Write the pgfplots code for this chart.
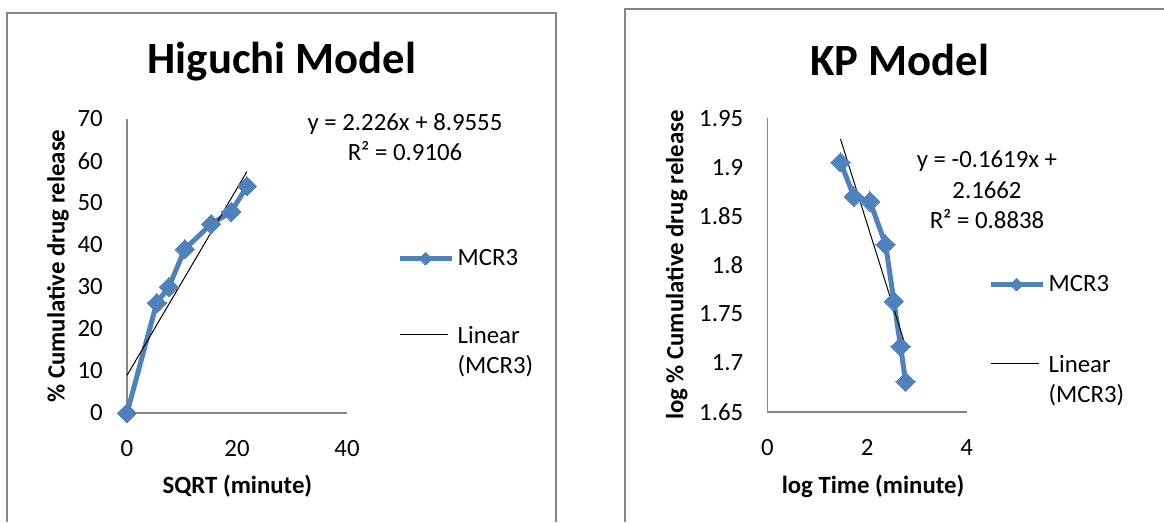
\documentclass[border=0pt]{standalone}
\usepackage{fontspec}
\setmainfont{Carlito}
\usepackage{pgfplots}
\pgfplotsset{compat=1.18}
\definecolor{xlblue}{RGB}{79,129,189}
\definecolor{framegray}{RGB}{134,134,134}
\definecolor{axgray}{RGB}{134,134,134}
\newcommand{\tickfont}{\fontsize{18.6}{22.3}\selectfont}
\newcommand{\titlefont}{\fontsize{33.5}{40}\selectfont\bfseries}

\pgfplotstableread{
x y
0 0
5.4 26.2
7.6 30.0
10.5 39.0
15.3 45.0
18.95 47.9
21.8 54.0
}\higuchi
\pgfplotstableread{
x y
1.467 1.905
1.736 1.870
2.058 1.865
2.372 1.821
2.539 1.763
2.673 1.717
2.774 1.681
}\kp

\pgfplotsset{
  excelstyle/.style={
    scale only axis,
    clip=false,
    axis lines=left,
    axis line style={draw=axgray, line width=1pt, -},
    major tick length=0pt,
    tick style={draw=none},
    scaled ticks=false,
    /pgf/number format/assume math mode=true,
    tick label style={font=\tickfont, inner sep=0pt},
    xticklabel style={anchor=north, yshift=-20.25pt},
    yticklabel style={anchor=east, xshift=-18pt},
    legend cell align=left,
  },
  series/.style={
    color=xlblue, line width=3.75pt, line join=round,
    mark=square*, mark size=5.1pt,
    mark options={rotate=45, fill=xlblue, draw=xlblue, line width=0pt},
    legend image code/.code={\draw[##1, mark repeat=2, mark phase=2, mark size=3.4pt] plot coordinates {(0pt,0pt) (19.5pt,0pt) (39pt,0pt)};},
  },
  trend/.style={
    black, line width=0.75pt, mark=none,
    legend image code/.code={\draw[##1] (0pt,12.5pt) -- (36pt,12.5pt);},
  },
}

\begin{document}
\begin{tikzpicture}
\path[use as bounding box] (0,0) rectangle (873pt,391.5pt);
\draw[framegray, line width=1.5pt] (5.25pt,0) -- (5.25pt,381.75pt) -- (417pt,381.75pt) -- (417pt,0);
\draw[framegray, line width=1.5pt] (468.75pt,0) -- (468.75pt,384.75pt) -- (873pt,384.75pt);

\begin{axis}[excelstyle,
  at={(95.25pt,81.75pt)}, anchor=south west,
  width=165pt, height=220.5pt,
  xmin=0, xmax=40, ymin=0, ymax=70,
  xtick={0,20,40}, ytick={0,10,...,70},
  title={Higuchi Model},
  every axis title/.style={at={(axis description cs:0.7045,1.194)}, anchor=center, font=\titlefont},
  xlabel={SQRT (minute)},
  ylabel={\% Cumulative drug release},
  every axis x label/.style={at={(axis description cs:0.502,-0.2483)}, anchor=center, font=\tickfont\bfseries},
  every axis y label/.style={at={(axis description cs:-0.3136,0.5)}, rotate=90, anchor=center, font=\tickfont\bfseries},
  legend style={at={(axis description cs:1.227,0.5575)}, anchor=north west,
    draw=none, fill=none, inner sep=0pt, row sep=44.35pt, column sep=2.6pt,
    font=\tickfont, nodes={inner sep=0pt}, cells={anchor=west, align=left}},
]
\addplot[series] table[x=x,y=y] {\higuchi};
\addlegendentry{MCR3}
\addplot[trend] coordinates {(0,8.9555) (21.8,57.48)};
\addlegendentry{Linear\\(MCR3)}
\node[font=\tickfont, align=center] at (axis description cs:1.2636,0.9388) {y = 2.226x + 8.9555\\R² = 0.9106};
\end{axis}

\begin{axis}[excelstyle,
  at={(575.6pt,82.5pt)}, anchor=south west,
  width=149.4pt, height=220.3pt,
  xmin=0, xmax=4, ymin=1.65, ymax=1.95,
  xtick={0,2,4}, ytick={1.65,1.7,1.75,1.8,1.85,1.9,1.95},
  title={KP Model},
  every axis title/.style={at={(axis description cs:0.665,1.1985)}, anchor=center, font=\titlefont},
  xlabel={log Time (minute)},
  ylabel={log \% Cumulative drug release},
  every axis x label/.style={at={(axis description cs:0.530,-0.252)}, anchor=center, font=\tickfont\bfseries},
  every axis y label/.style={at={(axis description cs:-0.4558,0.5)}, rotate=90, anchor=center, font=\tickfont\bfseries},
  legend style={at={(axis description cs:1.107,0.466)}, anchor=north west,
    draw=none, fill=none, inner sep=0pt, row sep=46.6pt, column sep=2.6pt,
    font=\tickfont, nodes={inner sep=0pt}, cells={anchor=west, align=left}},
]
\addplot[series] table[x=x,y=y] {\kp};
\addlegendentry{MCR3}
\addplot[trend] coordinates {(1.467,1.9287) (2.774,1.7171)};
\addlegendentry{Linear\\(MCR3)}
\node[font=\fontsize{18.6}{23}\selectfont, align=center] at (axis description cs:1.102,0.756) {y = -0.1619x +\\2.1662\\R² = 0.8838};
\end{axis}
\end{tikzpicture}
\end{document}
